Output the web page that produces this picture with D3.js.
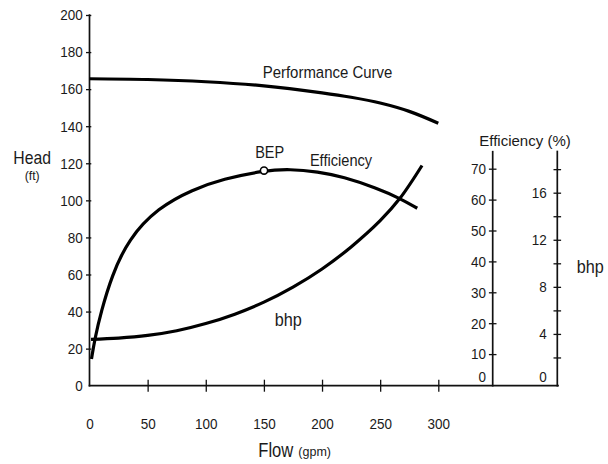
<!DOCTYPE html>
<html>
<head>
<meta charset="utf-8">
<script src="https://cdn.jsdelivr.net/npm/d3@7"></script>
<style>
  html, body { margin: 0; padding: 0; background: #fff; }
  svg { display: block; }
  text { font-family: "Liberation Sans", Arial, Helvetica, sans-serif; fill: #1a1a1a; }
</style>
</head>
<body>
<svg id="chart" width="608" height="464"></svg>
<script>
// Tick values for each axis
const flowTicks = [0, 50, 100, 150, 200, 250, 300];
const headTicks = [0, 20, 40, 60, 80, 100, 120, 140, 160, 180, 200];
const effTicks = [0, 10, 20, 30, 40, 50, 60, 70];
const bhpLabelTicks = [0, 4, 8, 12, 16];
const bhpMinorTicks = [2, 6, 10, 14, 18];

// Pump performance curve: head (ft) against flow (gpm)
const perfFlow = [0, 50, 100, 150, 200, 225, 250, 275, 300];
const perfHead = [165.6, 165.2, 164.0, 161.8, 158.0, 155.6, 152.5, 148.0, 141.6];

// Efficiency curve (%) against flow (gpm)
const effFlow = [1.7, 4.7, 9.9, 19.1, 33.4, 58.9, 89.0, 114.8, 150.1, 172.4, 196.5, 218.0, 247.3, 267.1, 281.9];
const effPct  = [8.4, 15.2, 23.6, 35.3, 47.2, 57.4, 63.3, 66.7, 69.4, 69.9, 69.0, 67.4, 63.7, 60.4, 57.2];

// Brake horsepower against flow (gpm)
const bhpFlow = [1.3, 25, 50, 75, 100, 125, 150, 175, 200, 225, 250, 267, 286];
const bhpVal  = [3.54, 3.64, 3.87, 4.27, 4.88, 5.68, 6.70, 7.98, 9.52, 11.39, 13.62, 15.52, 18.31];

// Best efficiency point
const bepFlow = 150.1, bepEff = 69.4;

const svg = d3.select("#chart");
const ink = "#111";

// Scales
const x = d3.scaleLinear().domain([0, 300]).range([89.5, 438.3]);
const yHead = d3.scaleLinear().domain([0, 200]).range([385.7, 15]);
const yEff = d3.scaleLinear().domain([0, 75.5]).range([385, 151.7]);
const yBhp = d3.scaleLinear().domain([0, 19.5]).range([381, 151.5]);

const baseY = yHead(0);
const effAxisX = 492.7, bhpAxisX = 557.3, axisEndX = 558;

// Horizontally condense text about its anchor
function condense(sel, s) {
  sel.each(function () {
    const t = d3.select(this);
    const xv = +t.attr("x") || 0;
    t.attr("x", xv / s).attr("transform", `scale(${s},1)`);
  });
}

function styleAxis(g) {
  g.attr("font-family", null).attr("font-size", 15).attr("color", ink);
  g.select(".domain").remove();
  g.selectAll(".tick line").attr("stroke-width", 1.3);
}

// Head axis (left)
const gHead = svg.append("g")
  .attr("transform", `translate(${x(0)},0)`)
  .call(d3.axisLeft(yHead).tickValues(headTicks).tickSize(3.5).tickPadding(3.3).tickFormat(d3.format("d")));
styleAxis(gHead);
gHead.selectAll(".tick line").attr("x1", 1.8);
gHead.selectAll(".tick").filter(d => d === 0).select("line").remove();
condense(gHead.selectAll(".tick text"), 0.9);

// Flow axis (bottom)
const gFlow = svg.append("g")
  .attr("transform", `translate(0,${baseY})`)
  .call(d3.axisBottom(x).tickValues(flowTicks).tickSize(6).tickPadding(26.6).tickFormat(d3.format("d")));
styleAxis(gFlow);
gFlow.selectAll(".tick line").attr("y1", -6);
gFlow.selectAll(".tick").filter(d => d === 0).select("line").remove();
condense(gFlow.selectAll(".tick text"), 0.9);

// Efficiency axis
const gEff = svg.append("g")
  .attr("transform", `translate(${effAxisX},0)`)
  .call(d3.axisLeft(yEff).tickValues(effTicks).tickSize(3.8).tickPadding(2.9).tickFormat(d3.format("d")));
styleAxis(gEff);
gEff.selectAll(".tick line").attr("x1", 3.8);
gEff.selectAll(".tick").filter(d => d === 0).select("line").remove();
gEff.selectAll(".tick").filter(d => d === 0).select("text").attr("y", -8.3);
condense(gEff.selectAll(".tick text"), 0.9);

// bhp axis
const gBhp = svg.append("g")
  .attr("transform", `translate(${bhpAxisX},0)`)
  .call(d3.axisLeft(yBhp).tickValues(bhpLabelTicks.concat(bhpMinorTicks)).tickSize(3.8).tickPadding(6.8)
    .tickFormat(d => bhpLabelTicks.includes(d) ? d3.format("d")(d) : ""));
styleAxis(gBhp);
gBhp.selectAll(".tick line").attr("x1", 3.8);
gBhp.selectAll(".tick").filter(d => d === 0).select("line").remove();
gBhp.selectAll(".tick").filter(d => d === 0).select("text").attr("y", -4.3);
condense(gBhp.selectAll(".tick text"), 0.9);

// Axis lines
const axisLines = [
  [x(0), yHead(200), x(0), baseY],
  [x(0), baseY, axisEndX, baseY],
  [effAxisX, yEff(75.5), effAxisX, baseY],
  [bhpAxisX, yBhp(19.5), bhpAxisX, baseY]
];
svg.append("g").selectAll("line").data(axisLines).join("line")
  .attr("x1", d => d[0]).attr("y1", d => d[1]).attr("x2", d => d[2]).attr("y2", d => d[3])
  .attr("stroke", ink).attr("stroke-width", 1.7).attr("stroke-linecap", "square");

// Curves
function drawCurve(xs, ys, yScale, curve) {
  const pts = xs.map((f, i) => [x(f), yScale(ys[i])]);
  svg.append("path")
    .attr("d", d3.line().curve(curve)(pts))
    .attr("fill", "none").attr("stroke", "#000").attr("stroke-width", 3.2)
    .attr("stroke-linecap", "butt").attr("stroke-linejoin", "round");
}
drawCurve(perfFlow, perfHead, yHead, d3.curveCatmullRom.alpha(0.5));
drawCurve(bhpFlow, bhpVal, yBhp, d3.curveCatmullRom.alpha(0.5));
drawCurve(effFlow, effPct, yEff, d3.curveBasis);

// Best efficiency point marker
svg.append("circle")
  .attr("cx", x(bepFlow)).attr("cy", yEff(bepEff)).attr("r", 3.6)
  .attr("fill", "#fff").attr("stroke", "#000").attr("stroke-width", 1.6);

// Text labels
function label(t, lx, ly, size, s) {
  svg.append("text")
    .attr("transform", `translate(${lx},${ly}) scale(${s},1)`)
    .attr("text-anchor", "middle").attr("font-size", size).text(t);
}
label("Performance Curve", 327.5, 77.5, 17, 0.88);
label("BEP", 269.7, 158.3, 16.5, 0.88);
label("Efficiency", 341, 165.5, 17, 0.86);
label("bhp", 288.3, 326, 18.5, 0.88);
label("Head", 32.2, 164.3, 19, 0.83);
label("(ft)", 32.2, 180, 13, 0.95);
label("Flow", 275.8, 456.7, 19.5, 0.85);
label("(gpm)", 314.7, 456, 12.5, 1.0);
label("Efficiency (%)", 525, 146, 15.5, 0.97);
label("bhp", 590.3, 273.3, 18, 0.9);
</script>
</body>
</html>
